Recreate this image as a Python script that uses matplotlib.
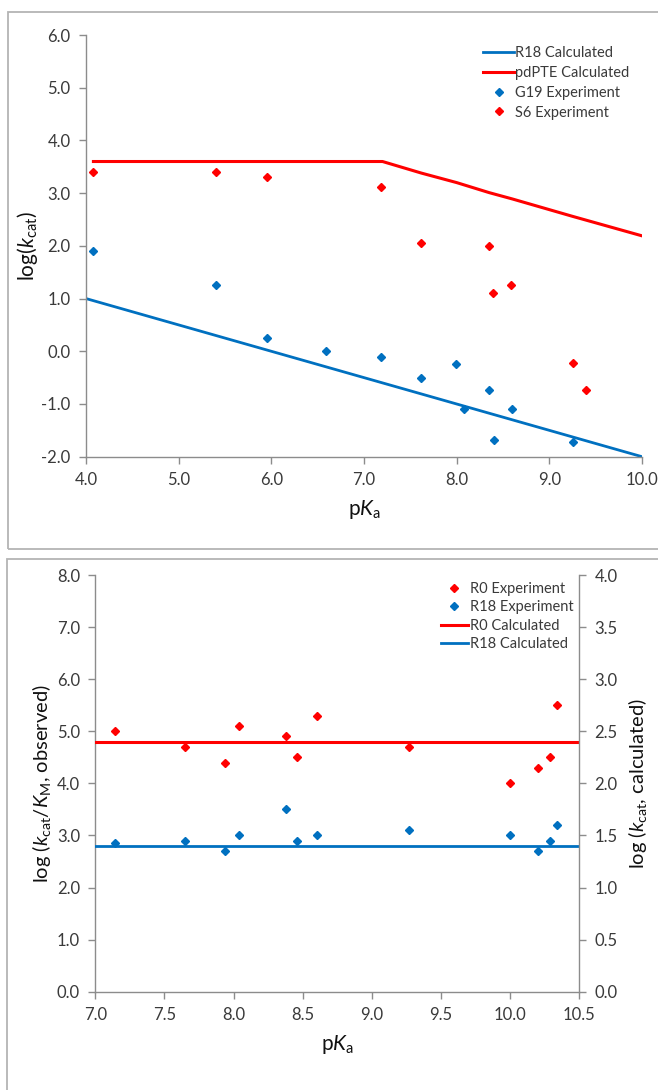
import matplotlib
matplotlib.use("Agg")
from matplotlib import pyplot as plt
from matplotlib.patches import Rectangle
from matplotlib.ticker import FormatStrFormatter

plt.rcParams['font.family'] = ['Lato', 'DejaVu Sans']
plt.rcParams['mathtext.fontset'] = 'custom'
plt.rcParams['mathtext.rm'] = 'Lato'
plt.rcParams['mathtext.it'] = 'Lato:italic'

BLUE = '#0070C0'
RED = '#FF0000'
GRAY = '#8c8c8c'
TXT = '#3a3a3a'

# ============== top panel data ==================
r18_calc_pka = [4.0, 10.0]
r18_calc_log = [1.0, -2.0]

pdpte_calc_pka = [4.08, 5.4, 5.95, 7.2, 7.62, 8.0, 8.35, 8.6, 9.25, 10.0]
pdpte_calc_log = [3.6, 3.6, 3.6, 3.6, 3.38, 3.2, 3.01, 2.89, 2.56, 2.19]

g19_pka = [4.08, 5.4, 5.95, 6.59, 7.18, 7.62, 7.99, 8.08, 8.35, 8.6, 8.4, 9.25]
g19_log = [1.9, 1.25, 0.26, 0.0, -0.1, -0.5, -0.24, -1.1, -0.74, -1.1, -1.69, -1.73]

s6_pka = [4.08, 5.4, 5.95, 7.18, 7.62, 8.35, 8.39, 8.59, 9.25, 9.4]
s6_log = [3.4, 3.4, 3.3, 3.11, 2.05, 2.0, 1.1, 1.26, -0.23, -0.74]

# ============== bottom panel data ==================
r0_pka = [7.14, 7.65, 7.94, 8.04, 8.38, 8.46, 8.60, 9.27, 10.0, 10.2, 10.29, 10.34]
r0_obs = [5.0, 4.7, 4.4, 5.1, 4.9, 4.5, 5.3, 4.7, 4.0, 4.3, 4.5, 5.5]
r18_pka = [7.14, 7.65, 7.94, 8.04, 8.38, 8.46, 8.60, 9.27, 10.0, 10.2, 10.29, 10.34]
r18_obs = [2.85, 2.9, 2.7, 3.0, 3.5, 2.9, 3.0, 3.1, 3.0, 2.7, 2.9, 3.2]

calc_range = [7.0, 10.5]
r0_calc = [2.4, 2.4]
r18_calc = [1.4, 1.4]


def style_axis(ax, sides):
    for s in ['top', 'right', 'left', 'bottom']:
        ax.spines[s].set_visible(s in sides)
        ax.spines[s].set_color(GRAY)
        ax.spines[s].set_linewidth(1.0)
    ax.tick_params(direction='out', length=5, width=1, color=GRAY,
                   labelcolor=TXT, labelsize=12, pad=6)


fig = plt.figure(figsize=(6.58, 10.9), dpi=100)

# panel frames
fig.patches.append(Rectangle((8 / 658, 1 - 549 / 1090), 660 / 658, 537 / 1090,
                             transform=fig.transFigure, fill=False,
                             edgecolor='#b4b4b4', lw=1.3))
fig.patches.append(Rectangle((6.5 / 658, -0.01), 660 / 658, 1 - 559 / 1090 + 0.01,
                             transform=fig.transFigure, fill=False,
                             edgecolor='#b4b4b4', lw=1.3))

# top
ax1 = fig.add_axes([86 / 658, 1 - 456.7 / 1090, 556 / 658, 421.7 / 1090])
ax1.plot(r18_calc_pka, r18_calc_log, color=BLUE, lw=2.0, label='R18 Calculated')
ax1.plot(pdpte_calc_pka, pdpte_calc_log, color=RED, lw=2.2, label='pdPTE Calculated')
ax1.plot(g19_pka, g19_log, 'D', color=BLUE, ms=4.5, ls='none', label='G19 Experiment')
ax1.plot(s6_pka, s6_log, 'D', color=RED, ms=4.5, ls='none', label='S6 Experiment')
ax1.set_xlim(4, 10)
ax1.set_ylim(-2, 6)
ax1.set_xticks([4, 5, 6, 7, 8, 9, 10])
ax1.set_yticks([-2, -1, 0, 1, 2, 3, 4, 5, 6])
ax1.xaxis.set_major_formatter(FormatStrFormatter('%.1f'))
ax1.yaxis.set_major_formatter(FormatStrFormatter('%.1f'))
style_axis(ax1, ['left', 'bottom'])
ax1.set_xlabel('p$\\mathit{K}_{\\mathrm{a}}$', fontsize=15, color='#111111', labelpad=7)
ax1.set_ylabel('log($\\mathit{k}_{\\mathrm{cat}}$)', fontsize=15, color='#111111', labelpad=1)
ax1.legend(loc='upper right', bbox_to_anchor=(1.0, 1.005), frameon=False,
           fontsize=10.5, handlelength=2.1, handletextpad=0.05, labelspacing=0.4,
           labelcolor=TXT)

# bottom
ax2 = fig.add_axes([95.3 / 658, 1 - 991.7 / 1090, 484 / 658, 416.7 / 1090])
ax2.plot(r0_pka, r0_obs, 'D', color=RED, ms=4.5, ls='none', label='R0 Experiment')
ax2.plot(r18_pka, r18_obs, 'D', color=BLUE, ms=4.5, ls='none', label='R18 Experiment')
ax2.set_xlim(7, 10.5)
ax2.set_ylim(0, 8)
ax2.set_xticks([7, 7.5, 8, 8.5, 9, 9.5, 10, 10.5])
ax2.set_yticks(range(0, 9))
ax2.xaxis.set_major_formatter(FormatStrFormatter('%.1f'))
ax2.yaxis.set_major_formatter(FormatStrFormatter('%.1f'))
style_axis(ax2, ['left', 'bottom'])
ax2.set_xlabel('p$\\mathit{K}_{\\mathrm{a}}$', fontsize=15, color='#111111', labelpad=7)
ax2.set_ylabel('log ($\\mathit{k}_{\\mathrm{cat}}$/$\\mathit{K}_{\\mathrm{M}}$, observed)',
               fontsize=14.5, color='#111111', labelpad=3)

ax3 = ax2.twinx()
ax3.plot(calc_range, r0_calc, color=RED, lw=2.2, label='R0 Calculated')
ax3.plot(calc_range, r18_calc, color=BLUE, lw=2.0, label='R18 Calculated')
ax3.set_ylim(0, 4)
ax3.set_yticks([0, 0.5, 1, 1.5, 2, 2.5, 3, 3.5, 4])
ax3.yaxis.set_major_formatter(FormatStrFormatter('%.1f'))
style_axis(ax3, ['right'])
ax3.set_ylabel('log ($\\mathit{k}_{\\mathrm{cat}}$, calculated)', fontsize=14.5,
               color='#111111', labelpad=6)

h2, l2 = ax2.get_legend_handles_labels()
h3, l3 = ax3.get_legend_handles_labels()
ax3.legend(h2 + h3, l2 + l3, loc='upper right', bbox_to_anchor=(1.015, 1.015),
           frameon=False, fontsize=10.5, handlelength=1.9, handletextpad=0.1,
           labelspacing=0.3, labelcolor=TXT)

fig.savefig('out.png', dpi=100)
